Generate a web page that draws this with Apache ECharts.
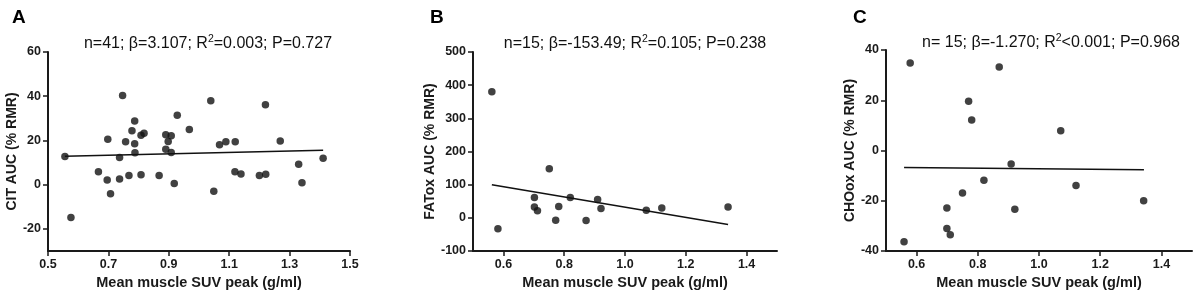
<!DOCTYPE html>
<html>
<head>
<meta charset="utf-8">
<script src="https://cdn.jsdelivr.net/npm/echarts@6/dist/echarts.min.js"></script>
<style>
  html, body { margin: 0; padding: 0; background: #fff; }
  #chart { width: 1200px; height: 298px; }
</style>
</head>
<body>
<div id="chart"></div>
<script>
// A: CIT AUC
const citX = [0.556, 0.576, 0.747, 0.698, 0.667, 0.696, 0.707, 0.737, 0.737, 0.757, 0.768, 0.778, 0.787, 0.787,
  0.788, 0.808, 0.818, 0.808, 0.868, 0.890, 0.890, 0.898, 0.908, 0.908, 0.918, 0.928, 0.968, 1.039, 1.068,
  1.089, 1.120, 1.049, 1.119, 1.139, 1.200, 1.221, 1.220, 1.269, 1.330, 1.341, 1.411]
const citY = [12.7, -14.9, 40.3, 20.5, 5.8, 2.1, -4.1, 12.3, 2.6, 19.4, 4.1, 24.4, 28.8, 18.5,
  14.4, 22.4, 23.2, 4.5, 4.1, 22.6, 16.0, 19.5, 22.1, 14.5, 0.5, 31.4, 25.0, 37.9, 18.0,
  19.4, 19.4, -3.0, 5.8, 4.8, 4.1, 4.7, 36.1, 19.7, 9.2, 0.9, 12.0]
const citFitX = [0.556, 1.411]
const citFitY = [12.9, 15.6]

// B: FATox AUC
const fatX = [0.562, 0.582, 0.751, 0.702, 0.702, 0.712, 0.772, 0.782, 0.820, 0.872, 0.910, 0.921, 1.070, 1.121, 1.339]
const fatY = [380, -33, 148, 61, 33, 21, -7, 34, 61, -8, 55, 28, 23, 30, 33]
const fatFitX = [0.562, 1.339]
const fatFitY = [100, -20]

// C: CHOox AUC
const choX = [0.579, 0.870, 0.770, 0.780, 0.909, 0.820, 0.750, 0.699, 0.921, 0.699, 0.710, 0.559, 1.121, 1.342, 1.071]
const choY = [34.8, 33.2, 19.6, 12.1, -5.4, -11.8, -16.9, -22.9, -23.4, -31.0, -33.5, -36.3, -13.9, -20.0, 7.9]
const choFitX = [0.559, 1.343]
const choFitY = [-6.8, -7.7]

// tick labels
const xTicksA = [0.5, 0.7, 0.9, 1.1, 1.3, 1.5]
const xTicksBC = [0.6, 0.8, 1.0, 1.2, 1.4]
const yTicksA = [-20, 0, 20, 40, 60]
const yTicksB = [-100, 0, 100, 200, 300, 400, 500]
const yTicksC = [-40, -20, 0, 20, 40]

const panelLetters = ['A', 'B', 'C']
const titleTexts = [
  ['n=41; β=3.107; R', '2', '=0.003; P=0.727'],
  ['n=15; β=-153.49; R', '2', '=0.105; P=0.238'],
  ['n= 15; β=-1.270; R', '2', '<0.001; P=0.968']
]
const yNames = ['CIT AUC (% RMR)', 'FATox AUC (% RMR)', 'CHOox AUC (% RMR)']
const xName = 'Mean muscle SUV peak (g/ml)'

const pairs = (xs, ys) => xs.map((x, i) => [x, ys[i]])

const axisColor = '#1a1a1a'
const grids = [
  { left: 48, top: 52, width: 302, height: 199 },
  { left: 473, top: 52, width: 304, height: 199 },
  { left: 886, top: 50, width: 306, height: 201 }
]
const titlePos = [[208, 44], [635, 44], [1051, 43]]
const letterPos = [[12, 8], [430, 8], [853, 8]]
const yNameGap = [29, 33, 28]
const yRanges = [[-30, 60], [-100, 500], [-40, 40]]
const yTickSets = [yTicksA, yTicksB, yTicksC]

function xAxisFor(i) {
  const ticks = i === 0 ? xTicksA : xTicksBC
  return {
    type: 'value',
    gridIndex: i,
    min: 0.5,
    max: 1.5,
    name: xName,
    nameLocation: 'middle',
    nameGap: 24,
    nameTextStyle: { fontSize: 14.5, fontWeight: 'bold', color: axisColor, fontFamily: 'Liberation Sans' },
    axisLine: { onZero: false, lineStyle: { color: axisColor, width: 2 } },
    axisTick: { show: true, length: 5, lineStyle: { color: axisColor, width: 1.5 }, customValues: ticks },
    axisLabel: {
      customValues: ticks,
      margin: 7,
      fontSize: 12.5,
      fontWeight: 'bold',
      color: axisColor,
      fontFamily: 'Liberation Sans',
      formatter: v => v.toFixed(1)
    },
    splitLine: { show: false }
  }
}

function yAxisFor(i) {
  return {
    type: 'value',
    gridIndex: i,
    min: yRanges[i][0],
    max: yRanges[i][1],
    name: yNames[i],
    nameLocation: 'middle',
    nameGap: yNameGap[i],
    nameTextStyle: { fontSize: 14, fontWeight: 'bold', color: axisColor, fontFamily: 'Liberation Sans' },
    axisLine: { show: true, onZero: false, lineStyle: { color: axisColor, width: 2 } },
    axisTick: { show: true, length: 5, lineStyle: { color: axisColor, width: 1.5 }, customValues: yTickSets[i] },
    axisLabel: {
      customValues: yTickSets[i],
      margin: 7,
      fontSize: 12.5,
      fontWeight: 'bold',
      color: axisColor,
      fontFamily: 'Liberation Sans'
    },
    splitLine: { show: false }
  }
}

const graphics = []
panelLetters.forEach((letter, i) => {
  graphics.push({
    type: 'text',
    x: letterPos[i][0],
    y: letterPos[i][1],
    style: { text: letter, fontSize: 19, fontWeight: 'bold', fill: '#000', fontFamily: 'Liberation Sans' }
  })
  const t = titleTexts[i]
  graphics.push({
    type: 'text',
    x: titlePos[i][0],
    y: titlePos[i][1],
    style: {
      text: `{a|${t[0]}}{s|${t[1]}}{a|${t[2]}}`,
      align: 'center',
      verticalAlign: 'middle',
      fill: '#111',
      rich: {
        a: { fontSize: 16, fontFamily: 'Liberation Sans', fill: '#111', lineHeight: 20 },
        s: { fontSize: 10.5, fontFamily: 'Liberation Sans', fill: '#111', lineHeight: 20, verticalAlign: 'top', padding: [0, 0, 8, 0] }
      }
    }
  })
})

const scatterData = [pairs(citX, citY), pairs(fatX, fatY), pairs(choX, choY)]
const fitData = [pairs(citFitX, citFitY), pairs(fatFitX, fatFitY), pairs(choFitX, choFitY)]

const series = []
scatterData.forEach((data, i) => {
  series.push({
    type: 'scatter',
    xAxisIndex: i,
    yAxisIndex: i,
    data,
    symbol: 'circle',
    symbolSize: 7.5,
    itemStyle: { color: '#111' },
    z: 3
  })
  series.push({
    type: 'line',
    xAxisIndex: i,
    yAxisIndex: i,
    data: fitData[i],
    symbol: 'none',
    lineStyle: { color: '#111', width: 1.5 },
    z: 2
  })
})

const option = {
  animation: false,
  backgroundColor: '#fff',
  grid: grids,
  xAxis: [0, 1, 2].map(xAxisFor),
  yAxis: [0, 1, 2].map(yAxisFor),
  graphic: graphics,
  series
}

const myChart = echarts.init(document.getElementById('chart'))
myChart.setOption(option)
</script>
</body>
</html>
